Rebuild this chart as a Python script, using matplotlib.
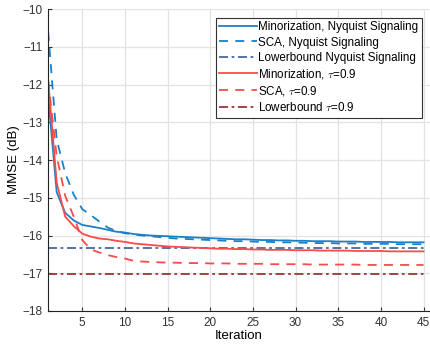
import matplotlib
matplotlib.use('Agg')
from matplotlib import pyplot as plt

plt.rcParams['font.family'] = ['Liberation Sans', 'DejaVu Sans']
plt.rcParams['mathtext.fontset'] = 'cm'

iters = list(range(1, 46))

# values (dB)
mino_nyq_head = [-12.3, -14.85, -15.4, -15.6, -15.72, -15.76, -15.8, -15.85, -15.9, -15.92,
                 -15.96, -15.98, -16.0, -16.01, -16.02, -16.03, -16.04, -16.05, -16.06, -16.07]
mino_nyq_tail = [-16.08, -16.09, -16.1, -16.1, -16.11, -16.12, -16.12, -16.13, -16.13, -16.14,
                 -16.14, -16.15, -16.15, -16.15, -16.16, -16.16, -16.16, -16.17, -16.17, -16.17,
                 -16.17, -16.18, -16.18, -16.18, -16.18]
sca_nyq_head = [-10.6, -13.45, -14.35, -14.92, -15.3, -15.46, -15.63, -15.79, -15.88, -15.94,
                -15.97, -16.0, -16.02, -16.04, -16.06, -16.08, -16.09, -16.1, -16.11, -16.12]
sca_nyq_tail = [-16.13, -16.14, -16.15, -16.15, -16.16, -16.17, -16.17, -16.18, -16.18, -16.19,
                -16.19, -16.2, -16.2, -16.2, -16.21, -16.21, -16.21, -16.22, -16.22, -16.22,
                -16.22, -16.23, -16.23, -16.23, -16.23]
mino_tau_head = [-11.88, -14.6, -15.5, -15.75, -15.95, -16.03, -16.08, -16.1, -16.14, -16.17,
                 -16.21, -16.23, -16.25, -16.27, -16.29, -16.3, -16.31, -16.32, -16.33, -16.34]
mino_tau_tail = [-16.35, -16.35, -16.36, -16.36, -16.37, -16.37, -16.38, -16.38, -16.38, -16.39,
                 -16.39, -16.39, -16.4, -16.4, -16.4, -16.4, -16.41, -16.41, -16.41, -16.41,
                 -16.42, -16.42, -16.42, -16.42, -16.42]
sca_tau_head = [-11.9, -13.9, -14.95, -15.5, -16.12, -16.37, -16.45, -16.52, -16.57, -16.61,
                -16.67, -16.69, -16.7, -16.71, -16.72, -16.72, -16.73, -16.73, -16.73, -16.74]
sca_tau_tail = [-16.74, -16.74, -16.75, -16.75, -16.75, -16.75, -16.76, -16.76, -16.76, -16.76,
                -16.76, -16.77, -16.77, -16.77, -16.77, -16.77, -16.77, -16.78, -16.78, -16.78,
                -16.78, -16.78, -16.78, -16.78, -16.78]
lb_nyq = -16.32
lb_tau = -17.02

mino_nyq = mino_nyq_head + mino_nyq_tail
sca_nyq = sca_nyq_head + sca_nyq_tail
mino_tau = mino_tau_head + mino_tau_tail
sca_tau = sca_tau_head + sca_tau_tail

blue = '#1a80c8'
blue_lb = '#46689e'
red = '#fa4a4a'
red_lb = '#993636'

fig = plt.figure(figsize=(4.3, 3.51), dpi=100)
ax = fig.add_axes([0.112, 0.114, 0.888, 0.86])

ax.plot(iters, mino_nyq, color=blue, lw=1.3, label='Minorization, Nyquist Signaling')
ax.plot(iters, sca_nyq, color=blue, lw=1.3, ls=(0, (5, 4)), label='SCA, Nyquist Signaling')
ax.plot(iters, [lb_nyq] * len(iters), color=blue_lb, lw=1.3, ls=(0, (5, 2, 1.5, 2)),
        label='Lowerbound Nyquist Signaling')
ax.plot(iters, mino_tau, color=red, lw=1.3, label=r'Minorization, $\tau$=0.9')
ax.plot(iters, sca_tau, color=red, lw=1.3, ls=(0, (5, 4)), label=r'SCA, $\tau$=0.9')
ax.plot(iters, [lb_tau] * len(iters), color=red_lb, lw=1.3, ls=(0, (5, 2, 1.5, 2)),
        label=r'Lowerbound $\tau$=0.9')

ax.set_xlim(1, 45.76)
ax.set_ylim(-18, -10)
ax.set_xticks(range(5, 46, 5))
ax.set_yticks(range(-18, -9))
ax.grid(True, color='#e3e3e3', lw=0.9)
ax.set_axisbelow(True)
for s in ['top', 'right']:
    ax.spines[s].set_visible(False)
ax.spines['left'].set_color('#222222')
ax.spines['bottom'].set_color('#222222')
ax.tick_params(direction='in', length=3, labelsize=8.5, colors='#333333', pad=4)

ax.set_xlabel('Iteration', fontsize=9.5, labelpad=1)
ax.set_ylabel('MMSE (dB)', fontsize=9.5, labelpad=2)

leg = ax.legend(loc='upper right', bbox_to_anchor=(0.979, 0.971), fontsize=8.4, frameon=True,
                fancybox=False, edgecolor='#333333', framealpha=1, borderpad=0.3,
                labelspacing=0.27, handlelength=3.2, handletextpad=0.15, borderaxespad=0)
leg.get_frame().set_linewidth(0.8)

plt.savefig('out.png', dpi=100)
